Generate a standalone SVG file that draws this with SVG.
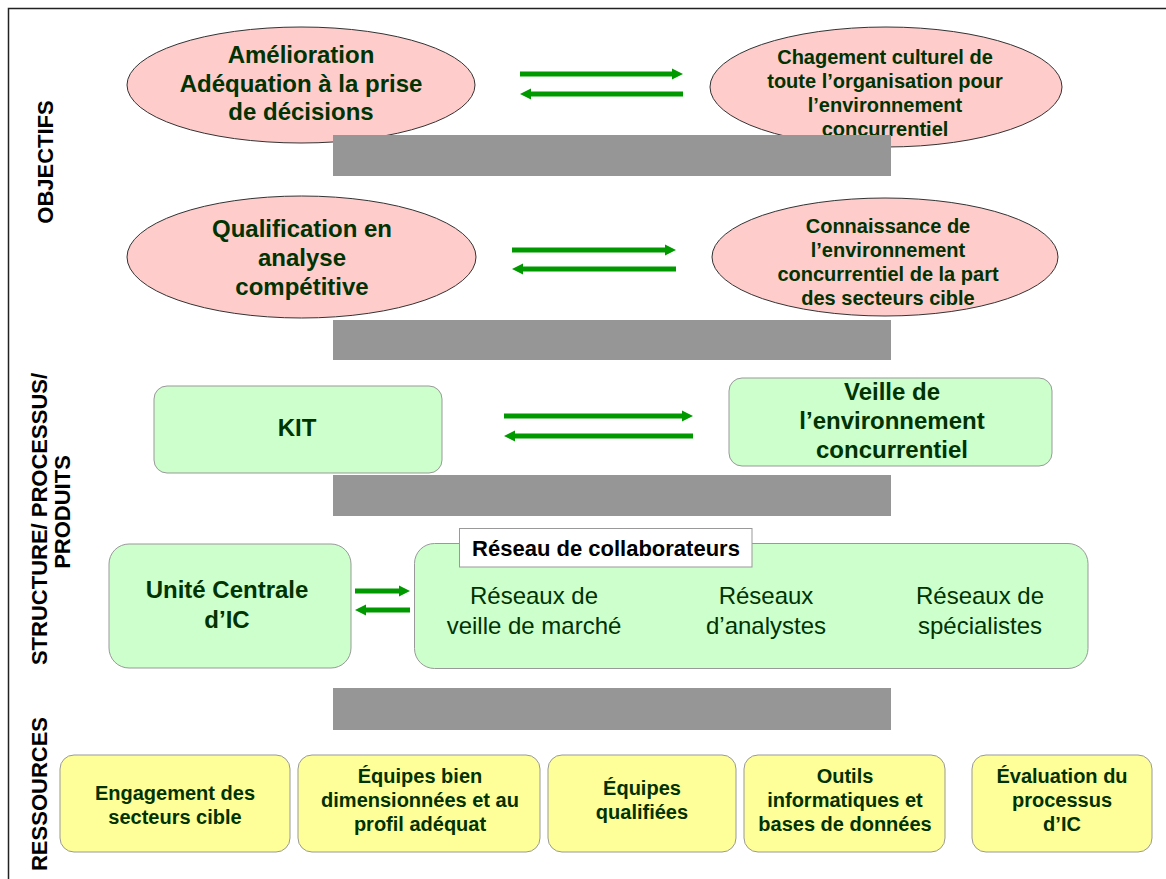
<svg xmlns="http://www.w3.org/2000/svg" width="1166" height="879" viewBox="0 0 1166 879">
<defs>
<marker id="ah" markerUnits="userSpaceOnUse" markerWidth="12" markerHeight="12" refX="0" refY="6" orient="auto">
<path d="M0,0.5 L11,6 L0,11.5 z" fill="#009900"/>
</marker>
<style>
.ell{fill:#ffcccc;stroke:#333;stroke-width:1}
.grn{fill:#ccffcc;stroke:#999;stroke-width:1}
.yel{fill:#ffff99;stroke:#999;stroke-width:1}
.bar{fill:#969696}
.t{font-family:"Liberation Sans",Arial,sans-serif;font-weight:bold;fill:#003300;text-anchor:middle}
.t24{font-size:24px}
.t20{font-size:20px}
.n{font-family:"Liberation Sans",Arial,sans-serif;font-size:24px;fill:#003300;text-anchor:middle}
.side{font-family:"Liberation Sans",Arial,sans-serif;font-weight:bold;font-size:22px;fill:#000;text-anchor:middle}
.arr{stroke:#009900;stroke-width:5;fill:none;marker-end:url(#ah)}
</style>
</defs>
<rect width="1166" height="879" fill="#fff"/>
<path d="M8.5,879 V8.5 H1166" fill="none" stroke="#222" stroke-width="1.5"/>

<g id="labels">
<text class="side" transform="translate(53,162) rotate(-90)">OBJECTIFS</text>
<text class="side" transform="translate(47,519) rotate(-90)">STRUCTURE/ PROCESSUS/</text>
<text class="side" transform="translate(70,512) rotate(-90)">PRODUITS</text>
<text class="side" transform="translate(47,794) rotate(-90)">RESSOURCES</text>
</g>

<g id="n-amelioration">
<ellipse class="ell" cx="301" cy="85" rx="174" ry="58"/>
<text class="t t24" x="301" y="63">Amélioration</text>
<text class="t t24" x="301" y="91.5">Adéquation à la prise</text>
<text class="t t24" x="301" y="120">de décisions</text>
</g>
<g id="n-changement">
<ellipse class="ell" cx="886" cy="87" rx="176" ry="60"/>
<text class="t t20" x="885" y="64">Chagement culturel de</text>
<text class="t t20" x="885" y="88">toute l’organisation pour</text>
<text class="t t20" x="885" y="112">l’environnement</text>
<text class="t t20" x="885" y="136">concurrentiel</text>
</g>
<g id="n-qualification">
<ellipse class="ell" cx="301.5" cy="257" rx="174.5" ry="61"/>
<text class="t t24" x="302" y="237">Qualification en</text>
<text class="t t24" x="302" y="266">analyse</text>
<text class="t t24" x="302" y="295">compétitive</text>
</g>
<g id="n-connaissance">
<ellipse class="ell" cx="885" cy="257" rx="173" ry="59"/>
<text class="t t20" x="888" y="233">Connaissance de</text>
<text class="t t20" x="888" y="257">l’environnement</text>
<text class="t t20" x="888" y="281">concurrentiel de la part</text>
<text class="t t20" x="888" y="305">des secteurs cible</text>
</g>

<g id="bars">
<rect class="bar" x="333" y="135" width="558" height="41"/>
<rect class="bar" x="333" y="320" width="558" height="40"/>
<rect class="bar" x="333" y="475" width="558" height="41"/>
<rect class="bar" x="333" y="688" width="558" height="42"/>
</g>

<g id="n-kit">
<rect class="grn" x="154" y="386" width="288" height="87" rx="13"/>
<text class="t t24" x="297" y="436">KIT</text>
</g>
<g id="n-veille">
<rect class="grn" x="729" y="378" width="323" height="88" rx="13"/>
<text class="t t24" x="892" y="400">Veille de</text>
<text class="t t24" x="892" y="429">l’environnement</text>
<text class="t t24" x="892" y="458">concurrentiel</text>
</g>
<g id="n-unite">
<rect class="grn" x="109" y="544" width="242" height="124" rx="20"/>
<text class="t t24" x="227" y="598">Unité Centrale</text>
<text class="t t24" x="227" y="628">d’IC</text>
</g>
<g id="n-reseau">
<rect class="grn" x="414.5" y="543.5" width="673.5" height="125" rx="20"/>
<rect x="459.5" y="528.5" width="292.5" height="38.5" fill="#fff" stroke="#999" stroke-width="1"/>
<text x="606" y="556" style="font-family:'Liberation Sans',Arial,sans-serif;font-weight:bold;font-size:22px;fill:#000;text-anchor:middle">Réseau de collaborateurs</text>
<text class="n" x="534" y="604">Réseaux de</text>
<text class="n" x="534" y="634">veille de marché</text>
<text class="n" x="766" y="604">Réseaux</text>
<text class="n" x="766" y="634">d’analystes</text>
<text class="n" x="980" y="604">Réseaux de</text>
<text class="n" x="980" y="634">spécialistes</text>
</g>

<g id="n-engagement">
<rect class="yel" x="60" y="755" width="230" height="97" rx="14"/>
<text class="t t20" x="175" y="800">Engagement des</text>
<text class="t t20" x="175" y="824">secteurs cible</text>
</g>
<g id="n-equipes-bien">
<rect class="yel" x="298" y="755" width="242" height="97" rx="14"/>
<text class="t t20" x="420" y="783">Équipes bien</text>
<text class="t t20" x="420" y="807">dimensionnées et au</text>
<text class="t t20" x="420" y="831">profil adéquat</text>
</g>
<g id="n-equipes-qual">
<rect class="yel" x="548" y="755" width="188" height="97" rx="14"/>
<text class="t t20" x="642" y="795">Équipes</text>
<text class="t t20" x="642" y="819">qualifiées</text>
</g>
<g id="n-outils">
<rect class="yel" x="744" y="755" width="201" height="97" rx="14"/>
<text class="t t20" x="845" y="783">Outils</text>
<text class="t t20" x="845" y="807">informatiques et</text>
<text class="t t20" x="845" y="831">bases de données</text>
</g>
<g id="n-evaluation">
<rect class="yel" x="972" y="755" width="180" height="97" rx="14"/>
<text class="t t20" x="1062" y="783">Évaluation du</text>
<text class="t t20" x="1062" y="807">processus</text>
<text class="t t20" x="1062" y="831">d’IC</text>
</g>

<g id="connectors">
<line class="arr" x1="520" y1="74" x2="672" y2="74"/>
<line class="arr" x1="683" y1="94" x2="531" y2="94"/>
<line class="arr" x1="512" y1="250" x2="665" y2="250"/>
<line class="arr" x1="676" y1="269" x2="523" y2="269"/>
<line class="arr" x1="504" y1="416" x2="682" y2="416"/>
<line class="arr" x1="693" y1="436" x2="515" y2="436"/>
<line class="arr" x1="355" y1="591" x2="399" y2="591"/>
<line class="arr" x1="410" y1="610" x2="366" y2="610"/>
</g>
</svg>
